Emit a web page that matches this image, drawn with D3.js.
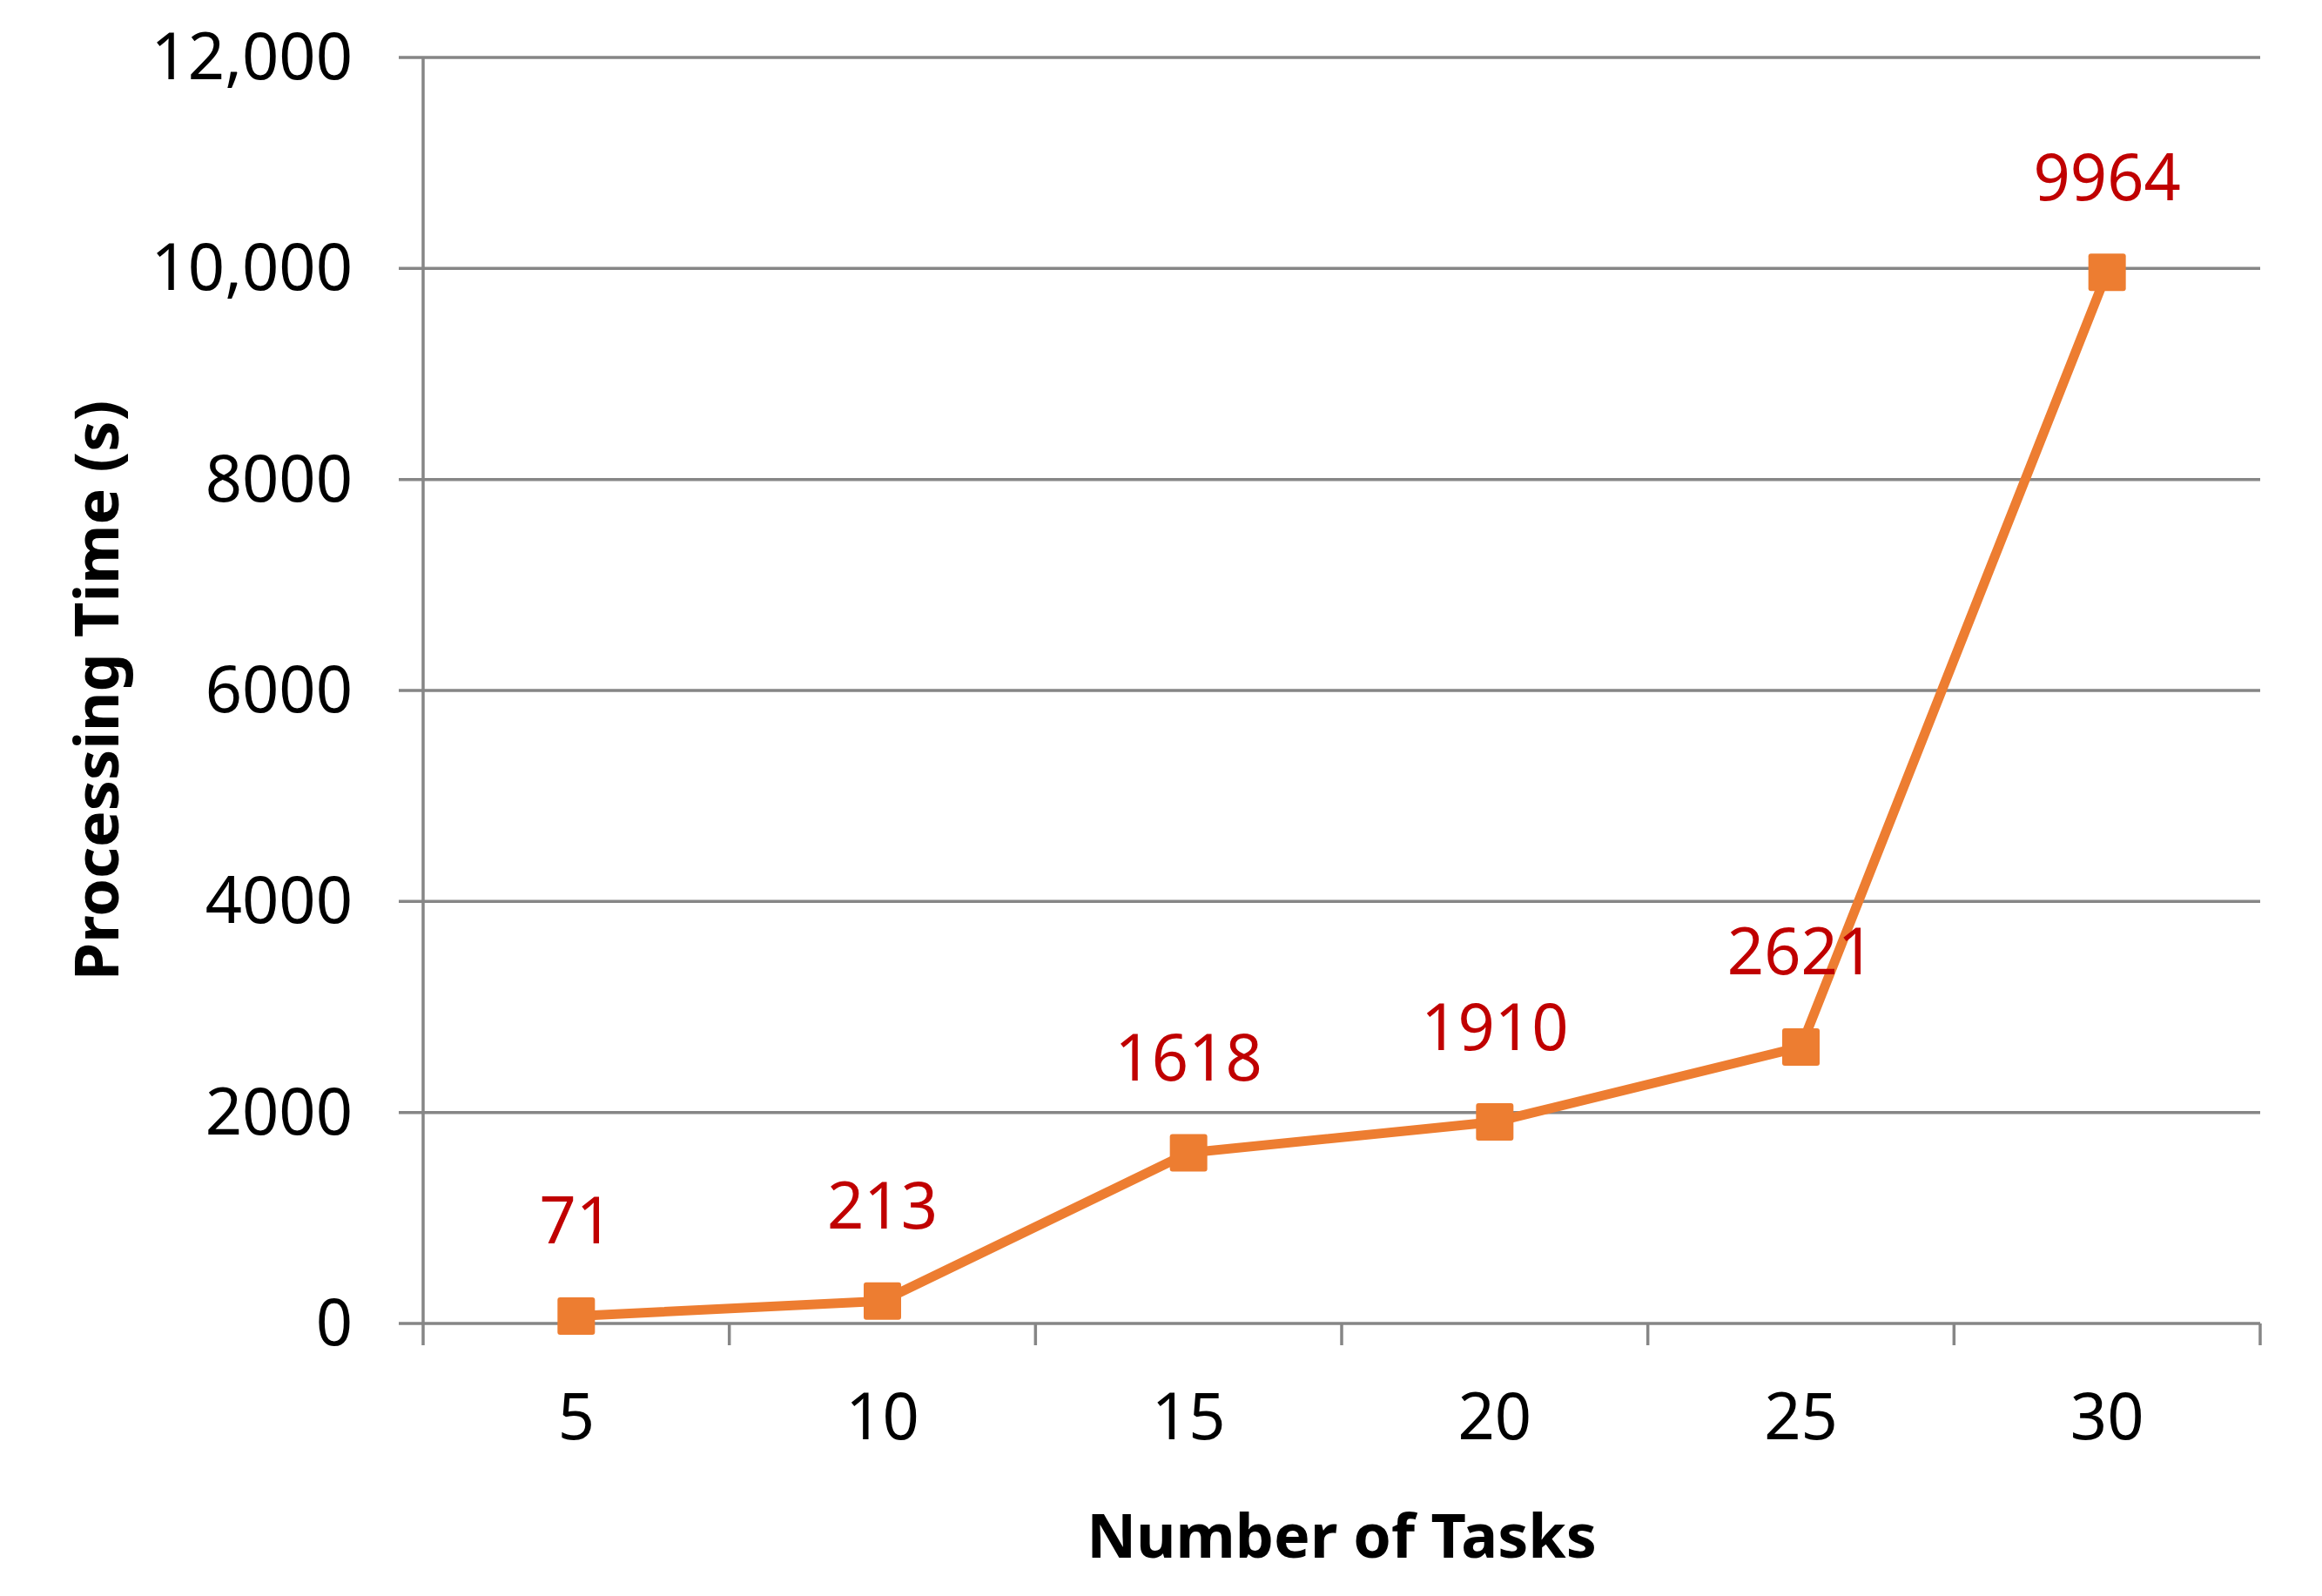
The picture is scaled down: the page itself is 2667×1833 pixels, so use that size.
<!DOCTYPE html>
<html>
<head>
<meta charset="utf-8">
<script src="https://cdn.jsdelivr.net/npm/d3@7"></script>
<style>
  body { margin: 0; background: #fff; }
  text { font-family: "Noto Sans", "Open Sans", sans-serif; }
</style>
</head>
<body>
<div id="chart"></div>
<script>
const tasks = ["5", "10", "15", "20", "25", "30"]
const times = [71, 213, 1618, 1910, 2621, 9964]

const yTicks = [0, 2000, 4000, 6000, 8000, 10000, 12000]
const yTickLabels = ["0", "2000", "4000", "6000", "8000", "10,000", "12,000"]

const width = 2667
const height = 1833

const lineColor = "#ED7D31"
const labelColor = "#C00000"
const gridColor = "#868686"

const svg = d3.select("#chart")
      .append("svg")
      .attr("width", width)
      .attr("height", height)

const x = d3.scaleBand()
      .domain(tasks)
      .range([486, 2596])
      .padding(0)

const y = d3.scaleLinear()
      .domain([0, 12000])
      .range([1520, 66])

const px = d => x(d) + x.bandwidth() / 2

// gridlines (extend left as ticks)
svg.append("g")
  .selectAll("line")
  .data(yTicks)
  .join("line")
  .attr("x1", 458)
  .attr("x2", 2596)
  .attr("y1", d => y(d))
  .attr("y2", d => y(d))
  .attr("stroke", gridColor)
  .attr("stroke-width", 3.5)

// left axis line
svg.append("line")
  .attr("x1", 486).attr("x2", 486)
  .attr("y1", y(12000)).attr("y2", y(0) + 25)
  .attr("stroke", gridColor)
  .attr("stroke-width", 3.5)

// x category boundary ticks
const bounds = tasks.map(t => x(t)).concat([x(tasks[tasks.length - 1]) + x.bandwidth()])
svg.append("g")
  .selectAll("line")
  .data(bounds.slice(1))
  .join("line")
  .attr("x1", d => d)
  .attr("x2", d => d)
  .attr("y1", y(0))
  .attr("y2", y(0) + 25)
  .attr("stroke", gridColor)
  .attr("stroke-width", 3.5)

// y tick labels
svg.append("g")
  .selectAll("text")
  .data(yTicks)
  .join("text")
  .attr("x", 405)
  .attr("y", d => y(d) + 25)
  .attr("text-anchor", "end")
  .attr("font-size", "74px")
  .attr("fill", "#000")
  .text((d, i) => yTickLabels[i])

// x tick labels
svg.append("g")
  .selectAll("text")
  .data(tasks)
  .join("text")
  .attr("x", px)
  .attr("y", 1653)
  .attr("text-anchor", "middle")
  .attr("font-size", "74px")
  .attr("fill", "#000")
  .text(d => d)

// series line
const line = d3.line()
      .x((d, i) => px(tasks[i]))
      .y(d => y(d))

svg.append("path")
  .datum(times)
  .attr("d", line)
  .attr("fill", "none")
  .attr("stroke", lineColor)
  .attr("stroke-width", 11)
  .attr("stroke-linejoin", "round")

// square markers
const ms = 43
svg.append("g")
  .selectAll("rect")
  .data(times)
  .join("rect")
  .attr("x", (d, i) => px(tasks[i]) - ms / 2)
  .attr("y", d => y(d) - ms / 2)
  .attr("width", ms)
  .attr("height", ms)
  .attr("rx", 3)
  .attr("fill", lineColor)

// data labels
svg.append("g")
  .selectAll("text")
  .data(times)
  .join("text")
  .attr("x", (d, i) => px(tasks[i]))
  .attr("y", d => y(d) - 83)
  .attr("text-anchor", "middle")
  .attr("font-size", "74px")
  .attr("fill", labelColor)
  .text(d => d)

// axis titles
svg.append("text")
  .attr("x", (486 + 2596) / 2)
  .attr("y", 1789)
  .attr("text-anchor", "middle")
  .attr("font-size", "70px")
  .attr("font-weight", "bold")
  .attr("fill", "#000")
  .text("Number of Tasks")

svg.append("text")
  .attr("transform", `translate(136, ${(66 + 1520) / 2}) rotate(-90)`)
  .attr("text-anchor", "middle")
  .attr("font-size", "70px")
  .attr("font-weight", "bold")
  .attr("fill", "#000")
  .text("Processing Time (s)")
</script>
</body>
</html>
